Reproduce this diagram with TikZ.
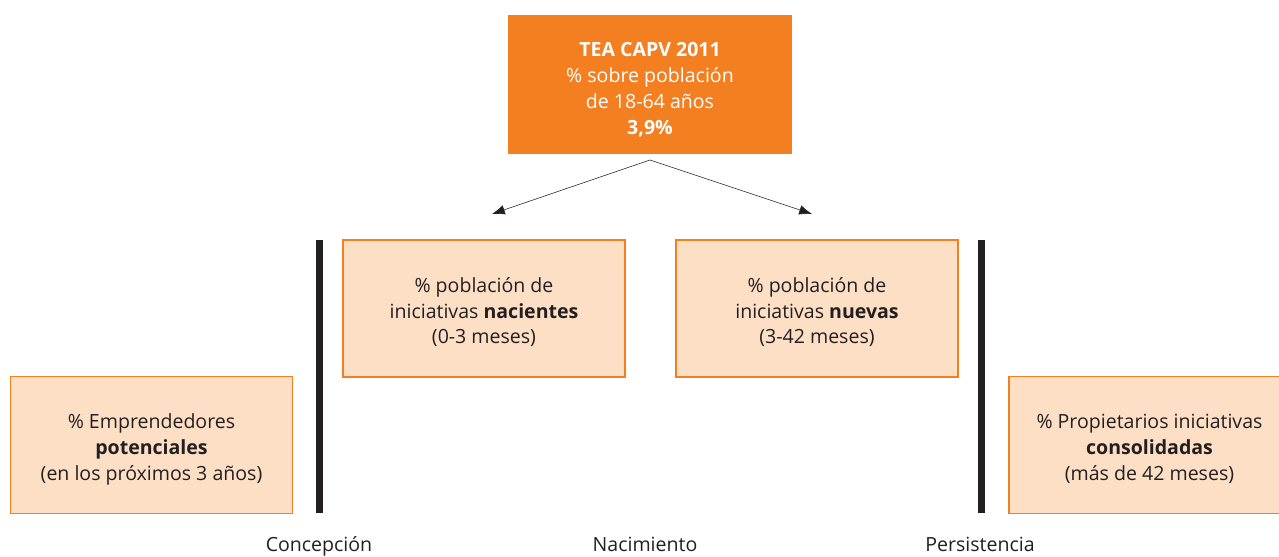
\documentclass[tikz,border=0pt]{standalone}
\usepackage{fontspec}
\setmainfont{Open Sans}
\usetikzlibrary{arrows.meta,positioning}
\definecolor{teaorange}{HTML}{F47F20}
\definecolor{teapeach}{HTML}{FDDFC6}
\definecolor{teatext}{HTML}{231F20}
\begin{document}
\begin{tikzpicture}[
  x=0.025cm,y=-0.025cm,
  every node/.style={font=\fontsize{13.9}{18.4}\selectfont,text=teatext},
  tea/.style={fill=teaorange,minimum width=284*0.025cm,minimum height=139*0.025cm,inner sep=0pt},
  tea text/.style={align=center,text=white},
  phase/.style={draw=teaorange,line width=1.4pt,fill=teapeach,minimum width=282*0.025cm,minimum height=137*0.025cm,inner sep=0pt},
  phase text/.style={align=center},
  flow/.style={-{Latex[length=3.2mm,width=2.4mm]},thin,teatext},
  divider/.style={fill=teatext},
  stage label/.style={anchor=base}
]
\useasboundingbox (0,0) rectangle (1279,557);
% caja superior
\node[tea] (tea) at (650,84.5) {};
\node[tea text] (tea text) at ([yshift=-3.6pt]tea.center) {\textbf{TEA CAPV 2011}\\
  \% sobre población\\
  de 18-64 años\\
  \textbf{3,9\%}};
% cajas de fases
\node[phase] (nac) at (484,308.5) {};
\node[phase text] (nac text) at ([yshift=-2.6pt]nac.center) {\% población de\\iniciativas \textbf{nacientes}\\(0-3 meses)};
\node[phase] (nue) at (817,308.5) {};
\node[phase text] (nue text) at ([yshift=-2.6pt]nue.center) {\% población de\\iniciativas \textbf{nuevas}\\(3-42 meses)};
\node[phase] (pot) at (151.5,445) {};
\node[phase text] (pot text) at ([yshift=-3pt]pot.center) {\% Emprendedores\\\textbf{potenciales}\\(en los próximos 3 años)};
\node[phase] (con) at (1149.5,445) {};
\node[phase text] (con text) at ([yshift=-3pt]con.center) {\% Propietarios iniciativas\\\textbf{consolidadas}\\(más de 42 meses)};
% flechas
\coordinate (split) at (650,160);
\coordinate (nac in) at (492,214);
\coordinate (nue in) at (812,214);
\draw[flow] (split) -- (nac in);
\draw[flow] (split) -- (nue in);
% separadores
\fill[divider] (316,240) rectangle (322.5,513);
\fill[divider] (978,240) rectangle (984.5,513);
% etapas
\node[stage label] (conc) at (319,551) {Concepción};
\node[stage label] (naci) at (645,551) {Nacimiento};
\node[stage label] (pers) at (980,551) {Persistencia};
\end{tikzpicture}
\end{document}
